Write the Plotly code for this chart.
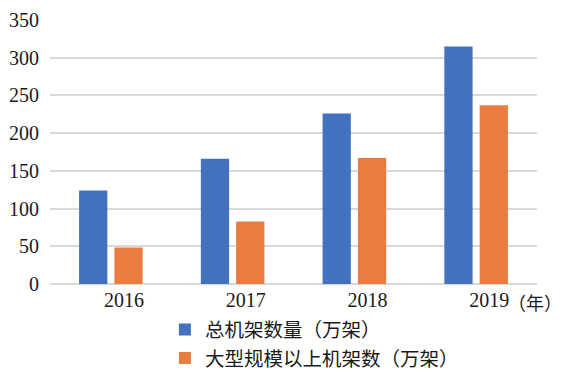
import plotly.graph_objects as go

years = ["2016", "2017", "2018", "2019"]
total_racks = [124, 166, 226, 315]
large_racks = [48.5, 83, 167, 237]
series_names = ["总机架数量（万架）", "大型规模以上机架数（万架）"]
colors = ["#4271BD", "#E97C3E"]
y_ticks = [0, 50, 100, 150, 200, 250, 300, 350]
unit_label = "（年）"

serif = "Liberation Serif, Times New Roman, serif"
cjk = "Noto Sans CJK SC, sans-serif"

fig = go.Figure()
for vals, col in zip([total_racks, large_racks], colors):
    fig.add_trace(go.Bar(x=years, y=vals, marker=dict(color=col, line=dict(width=0)),
                         showlegend=False))
# legend entries with small square symbols
for name, col in zip(series_names, colors):
    fig.add_trace(go.Scatter(x=[None], y=[None], mode="markers", name=name,
                             marker=dict(symbol="square", size=7, color=col)))

# page body has an 8px margin, so the figure is sized/margined to compensate
fig.update_layout(
    width=555, height=364,
    margin=dict(l=42, r=26, t=12, b=88, autoexpand=False),
    paper_bgcolor="white", plot_bgcolor="white",
    barmode="group", bargap=0.42, bargroupgap=0.2,
    font=dict(family=serif, size=20, color="#1a1a1a"),
    legend=dict(orientation="v", x=0.236, xanchor="left", y=-0.1, yanchor="top",
                font=dict(family=cjk, size=19.5, color="#1a1a1a"),
                bgcolor="rgba(0,0,0,0)", tracegroupgap=0, itemsizing="constant"),
    annotations=[dict(x=3, y=0, xref="x", yref="paper", text=unit_label,
                      showarrow=False, xanchor="left", yanchor="top",
                      xshift=30, yshift=-3,
                      font=dict(family=cjk, size=18, color="#1a1a1a"))],
)
fig.update_xaxes(range=[-0.5, 3.5], showgrid=False, showline=False, zeroline=False,
                 ticks="", tickfont=dict(family=serif, size=20), ticklabelshift=13,
                 ticklabelstandoff=2)
fig.update_yaxes(range=[0, 350], tickvals=y_ticks, showgrid=True, gridcolor="#D9D9D9",
                 gridwidth=1.5, zeroline=True, zerolinecolor="#D9D9D9", zerolinewidth=1.5,
                 showline=False, ticks="", tickfont=dict(family=serif, size=20),
                 ticklabelstandoff=10)

fig.write_html("out.html")
